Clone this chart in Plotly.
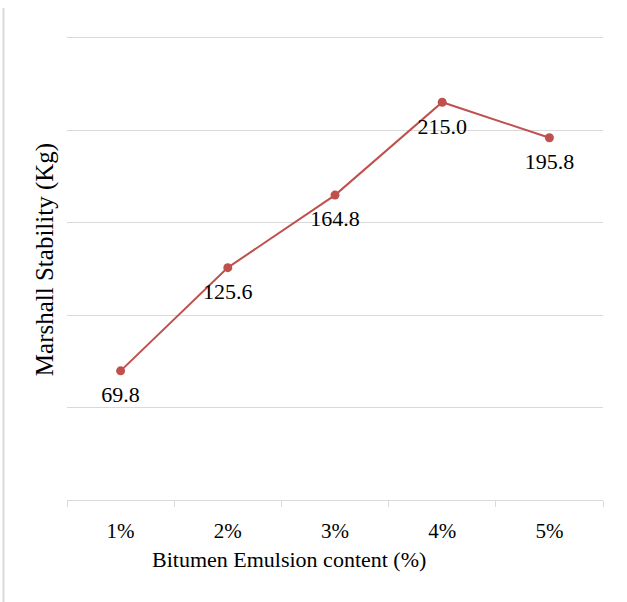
import plotly.graph_objects as go

categories = ["1%", "2%", "3%", "4%", "5%"]
stability = [69.8, 125.6, 164.8, 215.0, 195.8]
labels = ["69.8", "125.6", "164.8", "215.0", "195.8"]

FONT = "Liberation Serif, Times New Roman, serif"
GRID = "#d9d9d9"
RED = "#C0504D"

fig = go.Figure()
fig.add_trace(go.Scatter(
    x=categories, y=stability, mode="lines+markers",
    line=dict(color=RED, width=2),
    marker=dict(color=RED, size=9),
    showlegend=False, cliponaxis=False, hoverinfo="skip",
))
# data labels (offset by an invisible larger marker)
fig.add_trace(go.Scatter(
    x=categories, y=stability, mode="markers+text",
    text=labels, textposition="bottom center",
    textfont=dict(family=FONT, size=22, color="#000000"),
    marker=dict(size=22, opacity=0),
    showlegend=False, cliponaxis=False,
))

fig.update_layout(
    width=627, height=602,
    margin=dict(l=67, r=24, t=19, b=102),
    paper_bgcolor="white", plot_bgcolor="white",
    font=dict(family=FONT, size=21, color="#000000"),
    xaxis=dict(
        type="category", range=[-0.5, 4.5],
        showline=True, linecolor=GRID, linewidth=1,
        ticks="outside", tickson="boundaries", ticklen=6, tickcolor=GRID,
        showgrid=False, tickfont=dict(family=FONT, size=21),
        ticklabelstandoff=12,
    ),
    yaxis=dict(
        range=[0, 260], tick0=0, dtick=50, showgrid=True, gridcolor=GRID, gridwidth=1,
        showticklabels=False, zeroline=False, showline=False,
        title=dict(text="Marshall Stability (Kg)", font=dict(family=FONT, size=25), standoff=5),
    ),
    shapes=[dict(type="line", xref="paper", yref="paper",
                 x0=-0.1185, x1=-0.1185, y0=-0.212, y1=1.023,
                 line=dict(color=GRID, width=2))],
    annotations=[
        dict(text="Bitumen Emulsion content (%)", xref="paper", yref="paper",
             x=0.415, y=-0.124, xanchor="center", yanchor="middle",
             showarrow=False, font=dict(family=FONT, size=22)),
        dict(text="(Kg/cm)", xref="paper", yref="paper",
             x=0.744, y=1.045, yanchor="bottom", xanchor="center",
             showarrow=False, font=dict(family=FONT, size=18)),
    ],
)

fig.write_html("out.html")
